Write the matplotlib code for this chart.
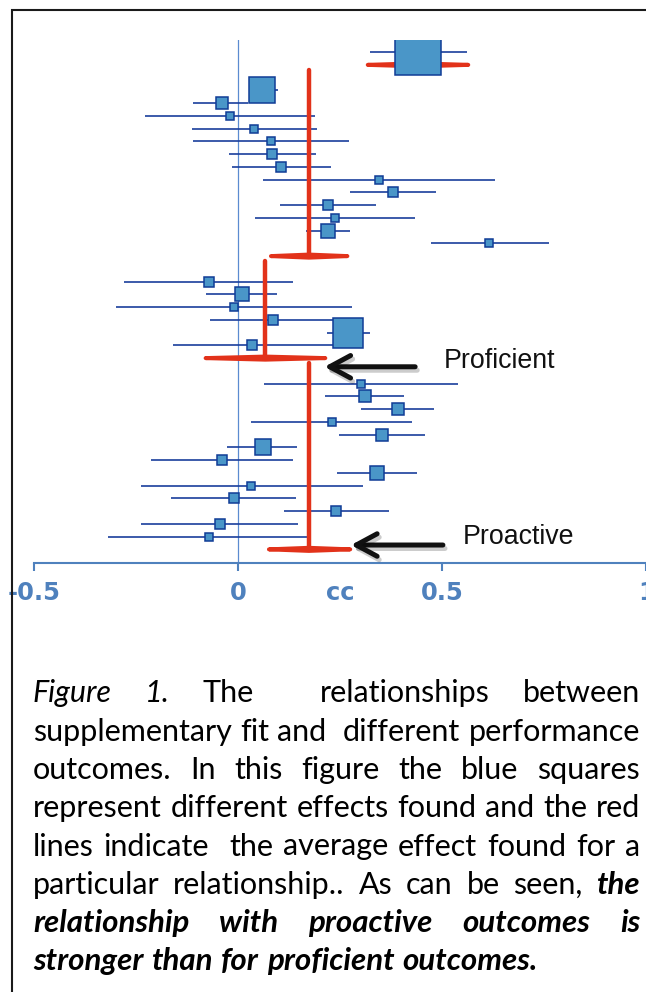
import matplotlib
matplotlib.use("Agg")
import matplotlib.pyplot as plt
import matplotlib.patheffects as pe
from matplotlib.patches import Polygon
from matplotlib.lines import Line2D
from matplotlib.transforms import IdentityTransform

# --- data (correlations, cc) ---
# top block: single big study
top_est = [0.441]
top_lo = [0.323]
top_hi = [0.560]
top_wt = [48]

# second block
b_est = [0.060, -0.040, -0.020, 0.040, 0.080, 0.084, 0.105, 0.345, 0.379, 0.220, 0.237, 0.220, 0.615]
b_lo = [0.030, -0.109, -0.227, -0.113, -0.111, -0.023, -0.015, 0.062, 0.274, 0.103, 0.041, 0.167, 0.472]
b_hi = [0.097, 0.025, 0.188, 0.193, 0.273, 0.191, 0.227, 0.630, 0.485, 0.338, 0.434, 0.275, 0.761]
b_wt = [27, 14, 9, 9, 9, 11.5, 11, 9, 12, 12, 9, 16.5, 9]

# proficient outcomes
c_est = [-0.071, 0.010, -0.010, 0.085, 0.270, 0.034]
c_lo = [-0.278, -0.077, -0.299, -0.069, 0.218, -0.158]
c_hi = [0.136, 0.096, 0.280, 0.232, 0.323, 0.232]
c_wt = [11, 16.5, 9, 11, 32.5, 11]

# proactive outcomes
d_est = [0.301, 0.310, 0.391, 0.230, 0.353, 0.061, -0.040, 0.341, 0.033, -0.010, 0.240, -0.045, -0.071]
d_lo = [0.063, 0.214, 0.302, 0.033, 0.247, -0.027, -0.214, 0.243, -0.238, -0.165, 0.112, -0.237, -0.317]
d_hi = [0.540, 0.407, 0.480, 0.427, 0.458, 0.145, 0.134, 0.438, 0.306, 0.143, 0.369, 0.146, 0.170]
d_wt = [9, 14, 14, 9, 14, 17, 12, 15, 9, 12, 12, 12, 9]

# pooled effects (red diamonds)
pool_lo = [0.318, 0.081, -0.079, 0.076]
pool_mid = [0.441, 0.174, 0.067, 0.174]
pool_hi = [0.564, 0.268, 0.214, 0.275]

tick_vals = [-0.5, 0, 0.5, 1]
tick_labels = ["-0.5", "0", "0.5", "1"]
axis_name = "cc"

arrow_labels = ["Proficient", "Proactive"]

caption_lines = [
    "*Figure* *1.* The  relationships between",
    "supplementary fit and  different performance",
    "outcomes. In this figure the blue squares",
    "represent different effects found and the red",
    "lines indicate  the average effect found for a",
    "particular relationship.. As can be seen, **the**",
    "**relationship** **with** **proactive** **outcomes** **is**",
    "**stronger** **than** **for** **proficient** **outcomes.**",
]

# --- styles ---
RED = "#E2321A"
SQ_FILL = "#4A96C8"
SQ_EDGE = "#103C96"
CI_COL = "#1A3E9C"
AX_COL = "#4F81BD"

W, H = 646, 992
fig = plt.figure(figsize=(W / 100, H / 100), dpi=100)
ax = fig.add_axes([33.7 / W, 1 - 563 / H, (646.3 - 33.7) / W, (563 - 40) / H])

ax.axvline(0, color="#5B8BD0", lw=0.9, zorder=1)

groups = [(top_est, top_lo, top_hi, top_wt),
          (b_est, b_lo, b_hi, b_wt),
          (c_est, c_lo, c_hi, c_wt),
          (d_est, d_lo, d_hi, d_wt)]

row = -3
prev_d = None
for g, (est, lo, hi, wt) in enumerate(groups):
    rows = list(range(row, row + len(est)))
    ax.hlines(rows, lo, hi, color=CI_COL, lw=1.2, zorder=2)
    for r, e, s in zip(rows, est, wt):
        ax.plot(e, r, "s", ms=(s - 1.5) / 1.389, mfc=SQ_FILL, mec=SQ_EDGE,
                mew=1.1, zorder=5)
    d = row + len(est)
    ax.add_patch(Polygon([(pool_lo[g], d), (pool_mid[g], d - 0.12),
                          (pool_hi[g], d), (pool_mid[g], d + 0.12)],
                         closed=True, fc=RED, ec=RED, lw=2.9,
                         joinstyle="round", zorder=3))
    if prev_d is not None:
        ax.plot([pool_mid[g], pool_mid[g]], [prev_d + 0.4, d], color=RED,
                lw=3.2, solid_capstyle="round", zorder=3)
    prev_d = d
    row = d + 2

ax.set_xlim(-0.5, 1.0)
ax.set_ylim(37.07, -3.95)
for s in ["top", "right", "left"]:
    ax.spines[s].set_visible(False)
ax.spines["bottom"].set_color(AX_COL)
ax.spines["bottom"].set_linewidth(1.5)
ax.set_yticks([])
ax.set_xticks(tick_vals, tick_labels, fontweight="bold")
ax.set_xticks([0.25], [axis_name], minor=True, fontweight="bold")
ax.tick_params(axis="x", which="major", direction="out", length=5.6, width=1.5,
               color=AX_COL, labelcolor=AX_COL, pad=7.4, labelsize=17.5)
ax.tick_params(axis="x", which="minor", length=0, labelcolor=AX_COL,
               pad=13.0, labelsize=17.5)
for lbl in ax.get_xticklabels(minor=True):
    lbl.set_fontweight("bold")

# arrows pointing at the two pooled effects
arrow_pos = [(0.434, 0.212, 21.68, 0.504, 21.81),
             (0.502, 0.277, 35.66, 0.550, 35.58)]
for lab, (tail, tip, r, tx, ty) in zip(arrow_labels, arrow_pos):
    ax.annotate("", xy=(tip, r), xytext=(tail, r),
                arrowprops=dict(arrowstyle="->, head_length=0.5, head_width=0.27",
                                lw=3.6, color="#111111", shrinkA=0, shrinkB=0,
                                mutation_scale=30, capstyle="round",
                                joinstyle="round",
                                path_effects=[pe.SimpleLineShadow(offset=(1.5, -2.5), alpha=0.2),
                                              pe.Normal()]),
                annotation_clip=False)
    ax.text(tx, ty, lab, fontsize=19.3, family="Liberation Sans",
            ha="left", va="baseline", color="#111111")

# frame around the figure (cut at right/bottom)
fig.add_artist(Line2D([12 / W, 12 / W, 1.05], [-0.05, 1 - 10.3 / H, 1 - 10.3 / H],
                      transform=fig.transFigure, color="#1a1a1a", lw=1.5,
                      solid_joinstyle="miter", zorder=10))

# justified caption
renderer = fig.canvas.get_renderer()
fam = ["Lato", "DejaVu Sans"]
left, right = 33.0, 640.0
for i, line in enumerate(caption_lines):
    base = H - (702.3 + i * 38.3)
    words = line.split(" ")
    items = []
    for w in words:
        style, weight, size = "normal", "normal", 22
        if w.startswith("**"):
            w = w.strip("*")
            style, weight, size = "italic", "bold", 22.5
        elif w.startswith("*"):
            w = w.strip("*")
            style = "italic"
        if w == "":
            items.append((None, 0.0))
            continue
        t = fig.text(0, base, w, transform=IdentityTransform(), family=fam,
                     fontsize=size, fontstyle=style, fontweight=weight,
                     color="black", ha="left", va="baseline")
        items.append((t, t.get_window_extent(renderer).width))
    total = sum(wd for _, wd in items)
    last = i == len(caption_lines) - 1
    gap = 8.0 if last else (right - left - total) / (len(items) - 1)
    x = left
    for t, wd in items:
        if t is not None:
            t.set_x(x)
        x += wd + gap

fig.savefig("out.png", dpi=100)
